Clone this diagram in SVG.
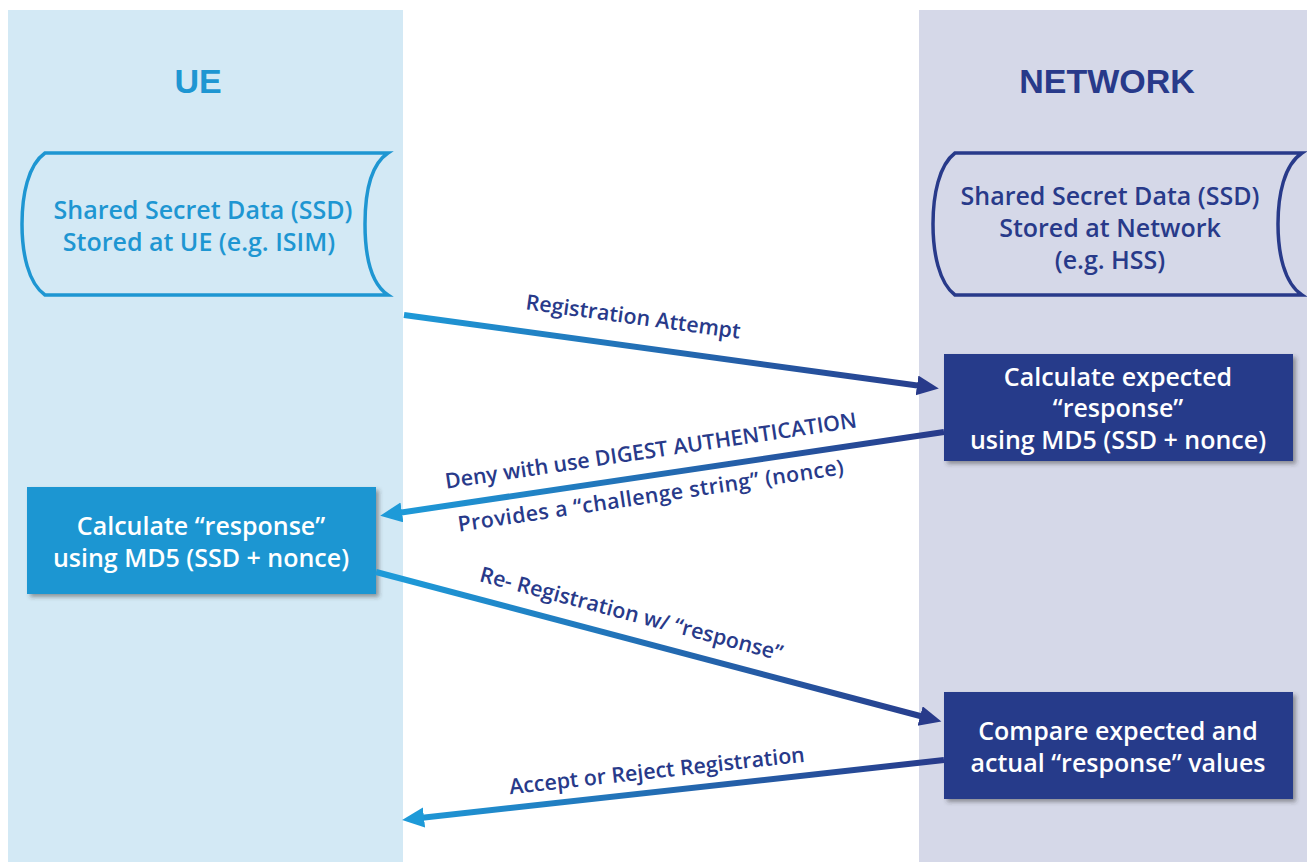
<svg xmlns="http://www.w3.org/2000/svg" width="1307" height="862" viewBox="0 0 1307 862">
<style>
.title{font-family:"Liberation Sans",Arial,sans-serif;font-weight:bold;font-size:34px;text-anchor:middle}
.t{font-family:"Open Sans","DejaVu Sans",sans-serif;font-weight:600;font-size:25px;text-anchor:middle}
.lbl{font-family:"Open Sans","DejaVu Sans",sans-serif;font-weight:600;font-size:21.4px;text-anchor:middle;fill:#283a8a}
.light{fill:#1e96d2}
.dark{fill:#283a8a}
.white{fill:#ffffff}
.cyl{fill:none;stroke-width:3.5}
.conn{fill:none;stroke:url(#g);stroke-width:6}
</style>
<defs>
<linearGradient id="g" gradientUnits="userSpaceOnUse" x1="400" y1="0" x2="944" y2="0">
<stop offset="0" stop-color="#1e9ad8"/>
<stop offset="1" stop-color="#283a8a"/>
</linearGradient>
<marker id="hd" markerUnits="userSpaceOnUse" markerWidth="24" markerHeight="22" refX="4" refY="10" orient="auto">
<path d="M0,0 L22,10 L0,20 Z" fill="#283a8a"/>
</marker>
<marker id="hl" markerUnits="userSpaceOnUse" markerWidth="24" markerHeight="22" refX="4" refY="10" orient="auto">
<path d="M0,0 L22,10 L0,20 Z" fill="#1e9ad8"/>
</marker>
<filter id="sh" x="-10%" y="-10%" width="130%" height="130%">
<feDropShadow dx="3" dy="3" stdDeviation="2" flood-color="#333" flood-opacity="0.45"/>
</filter>
</defs>
<rect width="1307" height="862" fill="#ffffff"/>
<g id="lane-ue">
<rect x="8" y="10" width="395" height="852" fill="#d3e9f5"/>
<text class="title light" x="198" y="93">UE</text>
</g>
<g id="lane-network">
<rect x="919" y="10" width="388" height="852" fill="#d5d8e8"/>
<text class="title dark" x="1107" y="93">NETWORK</text>
</g>
<g id="ssd-ue">
<path class="cyl" stroke="#1e96d2" d="M45,153 L388,153 C370,165 365,195 365,224 C365,253 370,283 388,295 L45,295 C28,283 22,253 22,224 C22,195 28,165 45,153 Z"/>
<text class="t light" x="203" y="219">Shared Secret Data (SSD)</text>
<text class="t light" x="199" y="251">Stored at UE (e.g. ISIM)</text>
</g>
<g id="ssd-network">
<path class="cyl" stroke="#283a8a" d="M955,153 L1302,153 C1284,165 1278,195 1278,224 C1278,253 1284,283 1302,295 L955,295 C939,283 933,253 933,224 C933,195 939,165 955,153 Z"/>
<text class="t dark" x="1110" y="205">Shared Secret Data (SSD)</text>
<text class="t dark" x="1110" y="237">Stored at Network</text>
<text class="t dark" x="1110" y="269">(e.g. HSS)</text>
</g>
<g id="calc-expected">
<rect x="944" y="354" width="349" height="107" fill="#283a8a" filter="url(#sh)"/>
<text class="t white" x="1118" y="386">Calculate expected</text>
<text class="t white" x="1118" y="417">“response”</text>
<text class="t white" x="1118" y="449">using MD5 (SSD + nonce)</text>
</g>
<g id="calc-response">
<rect x="27" y="487" width="349" height="107" fill="#1e96d2" filter="url(#sh)"/>
<text class="t white" x="201" y="535">Calculate “response”</text>
<text class="t white" x="201" y="567">using MD5 (SSD + nonce)</text>
</g>
<g id="compare">
<rect x="944" y="692" width="349" height="107" fill="#283a8a" filter="url(#sh)"/>
<text class="t white" x="1118" y="740">Compare expected and</text>
<text class="t white" x="1118" y="772">actual “response” values</text>
</g>
<g id="connectors">
<line class="conn" x1="404" y1="315" x2="921" y2="386" marker-end="url(#hd)"/>
<line class="conn" x1="944" y1="432" x2="398" y2="513" marker-end="url(#hl)"/>
<line class="conn" x1="376" y1="572" x2="924" y2="717" marker-end="url(#hd)"/>
<line class="conn" x1="944" y1="760" x2="420" y2="818" marker-end="url(#hl)"/>
<text class="lbl" transform="translate(633,318) rotate(7.8)" y="6">Registration Attempt</text>
<text class="lbl" transform="translate(651,452) rotate(-8.5)" y="6">Deny with use DIGEST AUTHENTICATION</text>
<text class="lbl" transform="translate(651,497) rotate(-8.5)" y="6" letter-spacing="0.4">Provides a “challenge string” (nonce)</text>
<text class="lbl" transform="translate(631,615) rotate(14.8)" y="6">Re- Registration w/ “response”</text>
<text class="lbl" transform="translate(657,772) rotate(-6.3)" y="6">Accept or Reject Registration</text>
</g>
</svg>
